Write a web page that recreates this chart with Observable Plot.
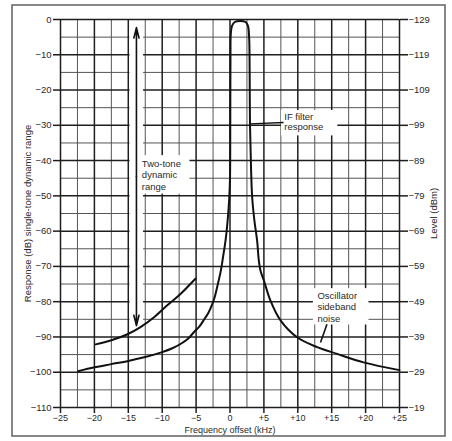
<!DOCTYPE html>
<html><head><meta charset="utf-8">
<script src="https://cdn.jsdelivr.net/npm/d3@7"></script>
<script src="https://cdn.jsdelivr.net/npm/@observablehq/plot@0.6"></script>
<style>body{margin:0;background:#fff}</style>
</head><body><div id="chart"></div>
<script>
// ---- data ----
const xTicks = [-25, -20, -15, -10, -5, 0, 5, 10, 15, 20, 25];
const yTicks = [0, -10, -20, -30, -40, -50, -60, -70, -80, -90, -100, -110];
const levelTicks = ["−129", "−119", "−109", "−99", "−89", "−79", "−69", "−59", "−49", "−39", "−29", "−19"];

// IF filter response / oscillator sideband noise (kHz, dB)
const filterX = [-22.4, -20, -17.5, -15, -12.5, -10, -8.5, -7.3, -6.2, -5.3, -4.5, -3.9, -3.2, -2.6, -2.2, -1.9, -1.35, -1.0, -0.66, -0.35, -0.12, 0.0, 0.04, 0.07, 0.12, 0.3, 0.7, 1.5, 2.3, 2.65, 2.82, 2.9, 2.95, 3.1, 3.27, 3.6, 4.0, 4.25, 4.5, 5.0, 5.97, 7.45, 9.9, 12.86, 15.8, 19.7, 25];
const filterY = [-99.7, -98.6, -97.7, -96.8, -95.7, -94.3, -93.2, -92.0, -90.5, -88.6, -87.0, -85.3, -83.2, -80.6, -78.3, -75.9, -71.2, -67.0, -62.7, -57.0, -51.0, -45.0, -30.0, -10.0, -4.0, -1.8, -0.7, -0.4, -0.7, -1.8, -5.0, -15.0, -30.0, -42.0, -50.4, -57.0, -62.7, -68.3, -71.2, -74.0, -79.7, -85.3, -90.1, -92.9, -94.8, -97.2, -99.4];

// upper left curve
const upperX = [-19.8, -17.6, -15.2, -13.2, -11.2, -9.3, -7.3, -5.1];
const upperY = [-92.1, -91.0, -89.3, -87.2, -84.4, -81.1, -77.8, -73.5];

// two-tone dynamic range arrow
const arrowX = [-13.8];
const arrowTop = [-2.3];
const arrowBottom = [-86.8];

// ---- build ----
const filterData = filterX.map((x, i) => ({x, y: filterY[i]}));
const upperData = upperX.map((x, i) => ({x, y: upperY[i]}));
const arrowMid = (arrowTop[0] + arrowBottom[0]) / 2;
const arrowData = [
  {x: arrowX[0], y1: arrowMid, y2: arrowTop[0]},
  {x: arrowX[0], y1: arrowMid, y2: arrowBottom[0]}
];

const minorX = d3.range(-25, 25.01, 2.5).filter(d => Math.abs(d % 5) > 0.1);
const majorX = d3.range(-25, 25.01, 5);
const minorY = d3.range(-110, 0.01, 5).filter(d => Math.abs(d % 10) > 0.1);
const majorY = d3.range(-110, 0.01, 10);

const font = "'Liberation Sans', Arial, sans-serif";
const txt = "#2a2a2a";

const fmtX = d => d > 0 ? `+${d}` : d < 0 ? `−${-d}` : "0";
const fmtY = d => d < 0 ? `−${-d}` : `${d}`;

const plot = Plot.plot({
  width: 452,
  height: 441,
  marginLeft: 60,
  marginRight: 53,
  marginTop: 19,
  marginBottom: 34,
  style: {fontFamily: font, fontSize: "9.5px", color: txt, background: "#fff"},
  x: {domain: [-25, 25]},
  y: {domain: [-110, 0]},
  marks: [
    Plot.ruleX(minorX, {stroke: "#555", strokeWidth: 1}),
    Plot.ruleY(minorY, {stroke: "#555", strokeWidth: 1}),
    Plot.ruleX(majorX, {stroke: "#1e1e1e", strokeWidth: 1.5}),
    Plot.ruleY(majorY, {stroke: "#1e1e1e", strokeWidth: 1.5}),
    Plot.axisX({ticks: xTicks, tickFormat: fmtX, tickSize: 6, tickPadding: 1, fontSize: 9, label: null, stroke: "#1e1e1e", strokeWidth: 1.5}),
    Plot.axisY({anchor: "left", ticks: yTicks, tickFormat: fmtY, tickSize: 7, tickPadding: 2, label: null, stroke: "#1e1e1e", strokeWidth: 1.5}),
    Plot.axisY({anchor: "right", ticks: yTicks, tickFormat: d => levelTicks[yTicks.indexOf(d)], tickSize: 8, tickPadding: 1, label: null, stroke: "#1e1e1e", strokeWidth: 1.5}),
    // white areas behind annotations
    Plot.rect([0], {x1: -14.75, x2: -12.75, y1: arrowBottom[0] + 1, y2: arrowTop[0] - 1, fill: "#fff"}),
    Plot.rect([0], {x1: -13.4, x2: -5.9, y1: -49.5, y2: -38.6, fill: "#fff"}),
    Plot.rect([0], {x1: 7.6, x2: 15.9, y1: -33.0, y2: -25.8, fill: "#fff"}),
    Plot.rect([0], {x1: 12.3, x2: 20.5, y1: -86.6, y2: -76.3, fill: "#fff"}),
    // curves
    Plot.line(filterData, {x: "x", y: "y", curve: "catmull-rom", stroke: "#111", strokeWidth: 2}),
    Plot.line(upperData, {x: "x", y: "y", curve: "catmull-rom", stroke: "#111", strokeWidth: 2}),
    // arrow
    Plot.arrow(arrowData, {x: "x", y1: "y1", y2: "y2", stroke: "#111", strokeWidth: 1.6, headLength: 10, headAngle: 28}),
    // leaders
    Plot.link([0], {x1: 3.0, y1: -29.6, x2: 7.9, y2: -29.2, stroke: "#111", strokeWidth: 1.3}),
    Plot.link([0], {x1: 14.3, y1: -86.4, x2: 13.35, y2: -91.6, stroke: "#111", strokeWidth: 1.6}),
    // annotation texts
    Plot.text(["Two-tone\ndynamic\nrange"], {x: -13.0, y: -39.3, text: d => d, textAnchor: "start", lineAnchor: "top", lineHeight: 1.25, fill: txt, fontSize: 9.5}),
    Plot.text(["IF filter\nresponse"], {x: 8.0, y: -26.4, text: d => d, textAnchor: "start", lineAnchor: "top", lineHeight: 1.1, fill: txt, fontSize: 9.5}),
    Plot.text(["Oscillator\nsideband\nnoise"], {x: 12.9, y: -76.9, text: d => d, textAnchor: "start", lineAnchor: "top", lineHeight: 1.2, fill: txt, fontSize: 9.5}),
    // axis titles
    Plot.text(["Response (dB) single-tone dynamic range"], {frameAnchor: "left", dx: -33, rotate: -90, textAnchor: "middle", text: d => d, fill: txt, fontSize: 9.5}),
    Plot.text(["Level (dBm)"], {frameAnchor: "right", dx: 34, rotate: -90, textAnchor: "middle", text: d => d, fill: txt, fontSize: 9.5}),
    Plot.text(["Frequency offset (kHz)"], {frameAnchor: "bottom", dy: 23, lineAnchor: "middle", text: d => d, fill: txt, fontSize: 9})
  ]
});

d3.select(plot).append("rect")
  .attr("x", 12).attr("y", 5).attr("width", 433).attr("height", 431)
  .attr("fill", "none").attr("stroke", "#6a6a6a").attr("stroke-width", 1.6);

document.getElementById("chart").appendChild(plot);
</script>
</body></html>
